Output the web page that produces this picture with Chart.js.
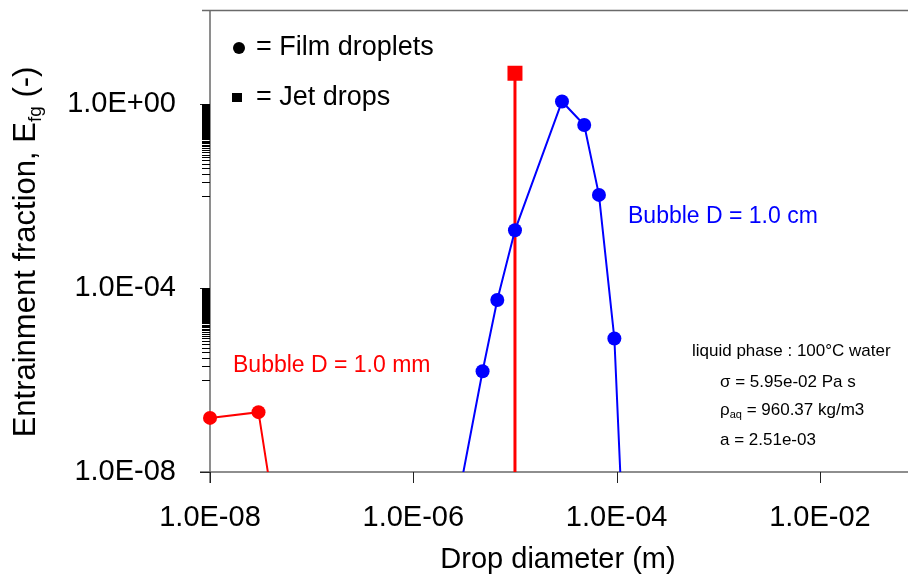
<!DOCTYPE html>
<html>
<head>
<meta charset="utf-8">
<script src="https://cdn.jsdelivr.net/npm/chart.js@4.4.1/dist/chart.umd.min.js"></script>
<style>
    html, body { margin: 0; padding: 0; background: #fff; overflow: hidden; }
    #wrap { width: 908px; height: 582px; }
</style>
</head>
<body>
<div id="wrap"><canvas id="myChart" width="908" height="582"></canvas></div>
<script>
// film droplets, bubble D = 1.0 mm
var film1mmDiam = [1e-8, 3e-8, 4e-8];
var film1mmFrac = [1.5e-7, 2.0e-7, 3.4e-9];

// film droplets, bubble D = 1.0 cm
var film1cmDiam = [2.5e-6, 4.8e-6, 6.7e-6, 1.0e-5, 2.9e-5, 4.8e-5, 6.7e-5, 9.5e-5, 1.2e-4];
var film1cmFrac = [8.0e-10, 1.55e-6, 5.5e-5, 1.8e-3, 1.14, 0.35, 1.06e-2, 8.0e-6, 6.6e-11];

// jet drops, bubble D = 1.0 mm (single size, drawn as a stem)
var jet1mmDiam = [1e-5, 1e-5];
var jet1mmFrac = [1e-12, 4.7];

var xTickValues = [1e-8, 1e-6, 1e-4, 1e-2];
var xTickLabels = ['1.0E-08', '1.0E-06', '1.0E-04', '1.0E-02'];
var yTickValues = [1e-8, 1e-4, 1e0];
var yTickLabels = ['1.0E-08', '1.0E-04', '1.0E+00'];

var FONT = '"Liberation Sans", Arial, Helvetica, sans-serif';

function toPoints(xs, ys) {
    return xs.map(function (x, i) { return { x: x, y: ys[i] }; });
}

// keep the plot box fixed: no extra room reserved for edge labels
function fixBox(size, key) {
    return function (s) {
        s[key] = size;
        s.paddingTop = 0; s.paddingBottom = 0;
        s.paddingLeft = 0; s.paddingRight = 0;
    };
}

var axisDecor = {
    id: 'axisDecor',
    beforeDatasetsDraw: function (chart) {
        var c = chart.ctx, a = chart.chartArea;
        var xs = chart.scales.x, ys = chart.scales.y;
        c.save();
        c.strokeStyle = '#6a6a6a';
        c.lineWidth = 1.5;
        c.beginPath();
        // top line, left axis, bottom axis (run on to the page edge)
        c.moveTo(a.left - 8, a.top); c.lineTo(chart.width, a.top);
        c.moveTo(a.left, a.top); c.lineTo(a.left, a.bottom + 11);
        c.moveTo(a.left - 10, a.bottom); c.lineTo(chart.width, a.bottom);
        c.stroke();

        c.lineWidth = 1;
        c.strokeStyle = '#222';
        c.beginPath();
        xTickValues.forEach(function (v) {
            var px = Math.round(xs.getPixelForValue(v)) + 0.5;
            c.moveTo(px, a.bottom); c.lineTo(px, a.bottom + 11);
        });
        yTickValues.forEach(function (v) {
            var py = Math.round(ys.getPixelForValue(v)) + 0.5;
            c.moveTo(a.left - 10, py); c.lineTo(a.left, py);
        });
        c.stroke();

        // minor ticks: hundredths of the decade above each labelled major
        c.strokeStyle = '#000';
        c.beginPath();
        [1e-4, 1e0].forEach(function (top) {
            for (var j = 1; j < 100; j++) {
                var py = Math.round(ys.getPixelForValue(top * j / 100)) + 0.5;
                if (py < a.top || py > a.bottom) continue;
                c.moveTo(a.left - 8, py); c.lineTo(a.left, py);
            }
        });
        c.stroke();
        c.restore();
    },
    afterDraw: function (chart) {
        var c = chart.ctx;
        c.save();
        c.fillStyle = '#000';
        c.textBaseline = 'middle';

        // symbol key
        c.beginPath();
        c.arc(239, 48, 6, 0, Math.PI * 2);
        c.fill();
        c.fillRect(232, 93, 10, 9);
        c.font = '27px ' + FONT;
        c.textAlign = 'left';
        c.fillText('= Film droplets', 256, 48);
        c.fillText('= Jet drops', 256, 98);

        // curve labels
        c.font = '23px ' + FONT;
        c.fillStyle = '#ff0000';
        c.fillText('Bubble D = 1.0 mm', 233, 366);
        c.fillStyle = '#0000ff';
        c.fillText('Bubble D = 1.0 cm', 628, 217);

        // fluid properties
        c.fillStyle = '#000';
        c.font = '17px ' + FONT;
        c.fillText('liquid phase : 100\u00b0C water', 692, 351);
        c.fillText('\u03c3 = 5.95e-02 Pa s', 720, 382);
        c.fillText('\u03c1', 720, 410);
        var rw = c.measureText('\u03c1').width;
        c.font = '11px ' + FONT;
        c.fillText('aq', 720 + rw, 415);
        var aw = c.measureText('aq').width;
        c.font = '17px ' + FONT;
        c.fillText(' = 960.37 kg/m3', 720 + rw + aw, 410);
        c.fillText('a = 2.51e-03', 720, 440);

        // x axis title
        c.font = '29px ' + FONT;
        c.textAlign = 'center';
        c.fillText('Drop diameter (m)', 558, 560);

        // y axis title with subscript
        c.translate(35, 252);
        c.rotate(-Math.PI / 2);
        c.textAlign = 'left';
        c.textBaseline = 'alphabetic';
        var main = 'Entrainment fraction, E', sub = 'fg', tail = ' (-)';
        c.font = '31px ' + FONT;
        var w1 = c.measureText(main).width, w3 = c.measureText(tail).width;
        c.font = '19px ' + FONT;
        var w2 = c.measureText(sub).width;
        var x0 = -(w1 + w2 + w3) / 2;
        c.font = '31px ' + FONT;
        c.fillText(main, x0, 0);
        c.font = '19px ' + FONT;
        c.fillText(sub, x0 + w1, 6);
        c.font = '31px ' + FONT;
        c.fillText(tail, x0 + w1 + w2, 0);
        c.restore();
    }
};

var ctx = document.getElementById('myChart');
new Chart(ctx, {
    type: 'line',
    data: {
        datasets: [{
            label: 'Film droplets, Bubble D = 1.0 mm',
            data: toPoints(film1mmDiam, film1mmFrac),
            borderColor: '#ff0000',
            backgroundColor: '#ff0000',
            borderWidth: 2,
            pointRadius: 7,
            pointBorderWidth: 0,
            clip: { left: 10, top: 0, right: 0, bottom: 0 }
        }, {
            label: 'Film droplets, Bubble D = 1.0 cm',
            data: toPoints(film1cmDiam, film1cmFrac),
            borderColor: '#0000ff',
            backgroundColor: '#0000ff',
            borderWidth: 2,
            pointRadius: 7,
            pointBorderWidth: 0,
            clip: { left: 10, top: 0, right: 0, bottom: 0 }
        }, {
            label: 'Jet drops, Bubble D = 1.0 mm',
            data: toPoints(jet1mmDiam, jet1mmFrac),
            borderColor: '#ff0000',
            backgroundColor: '#ff0000',
            borderWidth: 3,
            pointStyle: 'rect',
            pointRadius: [0, 10.6],
            pointBorderWidth: 0,
            clip: { left: 10, top: 10, right: 0, bottom: 0 }
        }]
    },
    options: {
        responsive: false,
        animation: false,
        layout: { padding: { top: 8, right: 0, bottom: 0, left: 0 } },
        plugins: {
            legend: { display: false },
            tooltip: { enabled: false }
        },
        scales: {
            x: {
                type: 'logarithmic',
                bounds: 'data',
                min: 1e-8,
                max: 0.0578,
                afterBuildTicks: function (s) {
                    s.ticks = xTickValues.map(function (v) { return { value: v }; });
                },
                afterFit: fixBox(110, 'height'),
                grid: { display: false, drawTicks: false },
                border: { display: false },
                ticks: {
                    callback: function (v, i) { return xTickLabels[i]; },
                    font: { family: FONT, size: 29 },
                    color: '#000',
                    padding: 29,
                    maxRotation: 0,
                    autoSkip: false
                }
            },
            y: {
                type: 'logarithmic',
                bounds: 'data',
                min: 1e-8,
                max: 107.7,
                afterBuildTicks: function (s) {
                    s.ticks = yTickValues.map(function (v) { return { value: v }; });
                },
                afterFit: fixBox(210, 'width'),
                grid: { display: false, drawTicks: false },
                border: { display: false },
                ticks: {
                    callback: function (v, i) { return yTickLabels[i]; },
                    font: { family: FONT, size: 29 },
                    color: '#000',
                    padding: 34,
                    autoSkip: false
                }
            }
        }
    },
    plugins: [axisDecor]
});
</script>
</body>
</html>
